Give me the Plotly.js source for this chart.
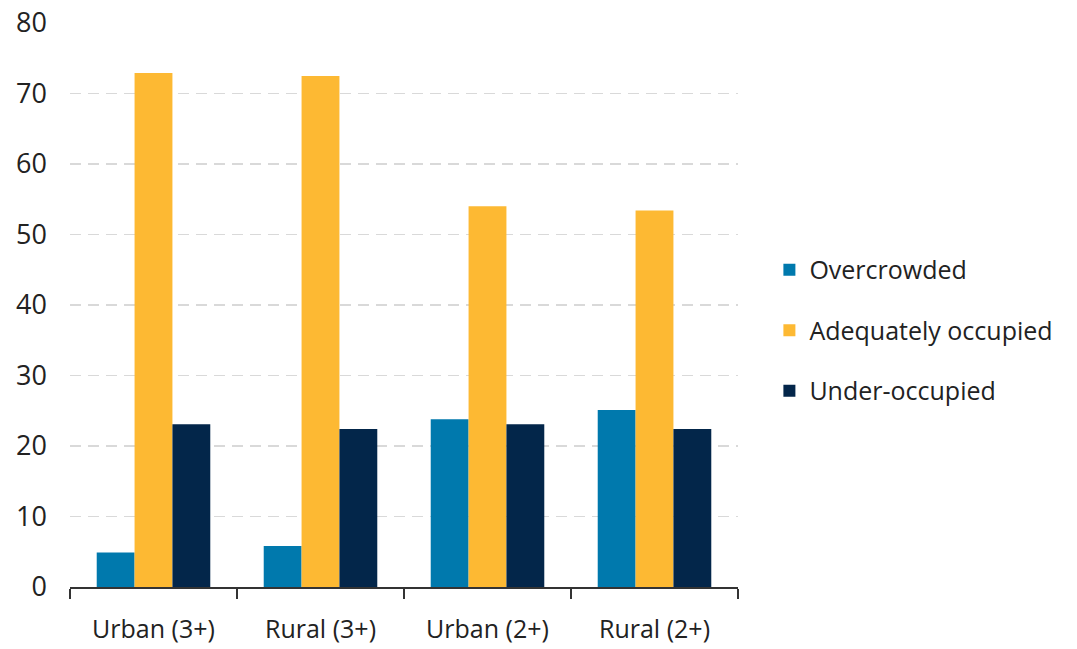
<!DOCTYPE html>
<html>
<head>
<meta charset="utf-8">
<script src="https://cdn.plot.ly/plotly-3.0.1.min.js"></script>
<style>
html,body{margin:0;padding:0;background:#fff;}
#chart{width:1077px;height:649px;}
</style>
</head>
<body>
<div id="chart"></div>
<script>
const categories = ["Urban (3+)", "Rural (3+)", "Urban (2+)", "Rural (2+)"];
const seriesNames = ["Overcrowded", "Adequately occupied", "Under-occupied"];
const overcrowded = [4.9, 5.8, 23.8, 25.1];
const adequately = [72.9, 72.5, 54.0, 53.4];
const underOccupied = [23.1, 22.4, 23.1, 22.4];
const yTicks = [0, 10, 20, 30, 40, 50, 60, 70, 80];

const colors = ["#0079AD", "#FDB933", "#03264A"];
const values = [overcrowded, adequately, underOccupied];

const traces = values.map((v, i) => ({
  type: "bar",
  name: seriesNames[i],
  x: categories,
  y: v,
  marker: {color: colors[i], line: {width: 0}},
  legendgroup: "g" + i,
  hoverinfo: "none"
}));

const font = "'Open Sans', 'DejaVu Sans', sans-serif";

const layout = {
  width: 1077,
  height: 649,
  margin: {l: 70, r: 339, t: 23, b: 62},
  paper_bgcolor: "#fff",
  plot_bgcolor: "#fff",
  barmode: "group",
  bargap: 0.32,
  bargroupgap: 0,
  showlegend: true,
  legend: {
    x: 1.047, xanchor: "left",
    y: 0.455, yanchor: "middle",
    font: {family: font, size: 25, color: "#222"},
    tracegroupgap: 25,
    traceorder: "grouped"
  },
  xaxis: {
    type: "category",
    showline: true,
    linecolor: "#333",
    linewidth: 2,
    ticks: "outside",
    tickson: "boundaries",
    ticklen: 10,
    tickwidth: 2,
    tickcolor: "#333",
    ticklabelstandoff: 19,
    tickfont: {family: font, size: 25, color: "#222"},
    showgrid: false,
    zeroline: false
  },
  yaxis: {
    range: [0, 80],
    tickvals: yTicks,
    ticktext: yTicks.map(String),
    showline: false,
    showgrid: true,
    gridcolor: "#d9d9d9",
    gridwidth: 1.5,
    griddash: "11px,7px",
    zeroline: false,
    ticks: "",
    ticklabelstandoff: 22,
    tickfont: {family: font, size: 27, color: "#222"}
  }
};

Plotly.newPlot("chart", traces, layout, {staticPlot: true, displayModeBar: false});
</script>
</body>
</html>
